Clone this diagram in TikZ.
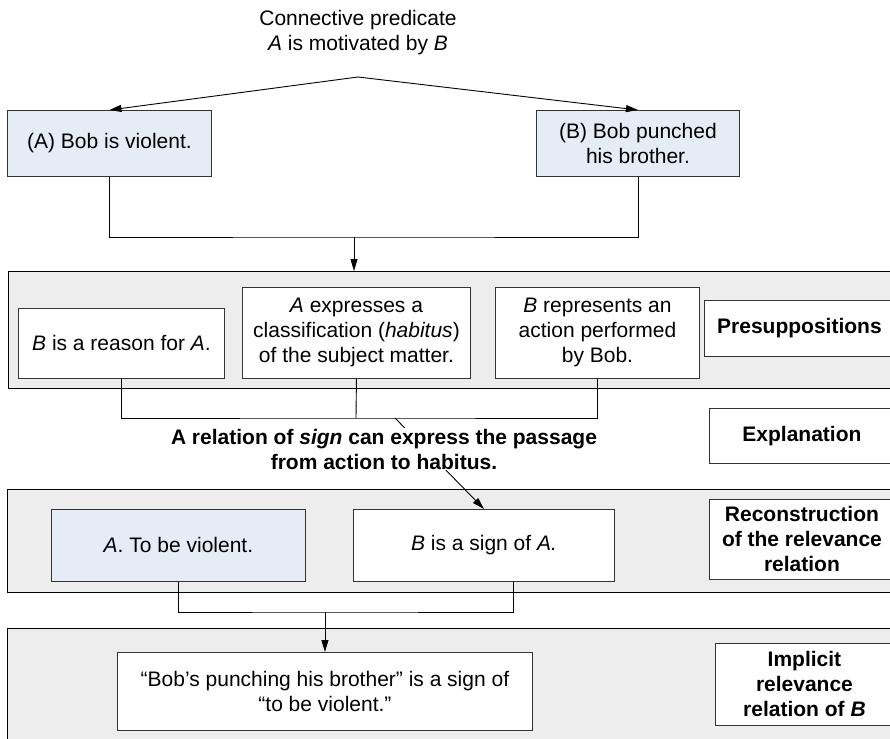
\documentclass[tikz,border=0pt]{standalone}
\usepackage{fontspec}
\setmainfont{Liberation Sans}
\usetikzlibrary{arrows.meta}

\definecolor{panelgray}{HTML}{EDEDED}
\definecolor{boxblue}{HTML}{E6ECF6}
\definecolor{edgegray}{HTML}{333333}

\tikzset{
  txt/.style={font=\fontsize{21}{25}\selectfont, align=center},
  panel/.style={draw=black, line width=1.1pt, fill=panelgray, anchor=north west, inner sep=0pt},
  box/.style={txt, draw=edgegray, line width=0.9pt, fill=white, anchor=north west, inner sep=0pt},
  bluebox/.style={box, fill=boxblue},
  tagbox/.style={box, font=\fontsize{21}{25}\selectfont\bfseries},
  conn/.style={line width=0.9pt, draw=black},
  arr/.style={conn, -{Triangle[length=12pt,width=7pt]}}
}

\begin{document}
\begin{tikzpicture}[x=1pt, y=-1pt]
\useasboundingbox (0,0) rectangle (890,738);
\clip (0,0) rectangle (890,738);

% heading and the two statements
\node[txt] (title) at (358,33) {Connective predicate\\\textit{A} is motivated by \textit{B}};
\coordinate (apex) at (358,77);
\node[bluebox, minimum width=204, minimum height=66] (boxA) at (7,110) {(A) Bob is violent.};
\node[bluebox, minimum width=203, minimum height=66] (boxB) at (536,110) {(B) Bob punched\\his brother.};
\draw[arr] (apex) -- (boxA.north);
\draw[arr] (apex) -- (boxB.north);

% presuppositions band
\node[panel, minimum width=900, minimum height=117] (panel1) at (8,271) {};
\node[box, minimum width=206, minimum height=70] (p1) at (18,308) {\textit{B} is a reason for \textit{A}.};
\node[box, minimum width=228, minimum height=91] (p2) at (242,287) {\textit{A} expresses a\\classification (\textit{habitus})\\of the subject matter.};
\node[box, minimum width=204, minimum height=91] (p3) at (495,287) {\textit{B} represents an\\action performed\\by Bob.};
\node[tagbox, minimum width=190, minimum height=56] (pres) at (704,300) {Presuppositions};

\coordinate (j1) at (354,237);
\draw[conn] (boxA.south) |- (j1) -| (boxB.south);
\draw[arr] (j1) -- (j1 |- panel1.north);

% explanation
\coordinate (j2) at (356,418);
\draw[conn] (p1.south) |- (j2) -| (p3.south);
\draw[conn] (p2.south) -- (j2);
\coordinate (d0) at (395,418);

% reconstruction band
\node[panel, minimum width=900, minimum height=103] (panel2) at (7,489) {};
\node[bluebox, minimum width=254, minimum height=72] (q1) at (51,509) {\textit{A}. To be violent.};
\node[box, minimum width=261, minimum height=72] (q2) at (353,509) {\textit{B} is a sign of \textit{A.}};
\node[tagbox, minimum width=185, minimum height=80] (recon) at (709,499) {Reconstruction\\of the relevance\\relation};

\draw[arr] (d0) -- (q2.north);
\node[txt, font=\fontsize{21}{25}\selectfont\bfseries, fill=white, inner sep=1pt] (expl) at (384,449)
  {A relation of \textit{sign} can express the passage\\from action to habitus.};
\node[tagbox, minimum width=185, minimum height=55] (explbox) at (709,408) {Explanation};

% implicit relevance band
\node[panel, minimum width=900, minimum height=140] (panel3) at (7,628) {};
\node[box, minimum width=415, minimum height=78] (bob) at (117,652) {“Bob’s punching his brother” is a sign of\\“to be violent.”};
\node[tagbox, minimum width=178, minimum height=82] (impl) at (715,643) {Implicit\\relevance\\relation of \textit{B}};

\coordinate (q2b) at ([xshift=29pt]q2.south);
\coordinate (j3) at (bob.north |- 0,612);
\draw[conn] (q1.south) |- (j3) -| (q2b);
\draw[arr] (j3) -- (bob.north);
\end{tikzpicture}
\end{document}
